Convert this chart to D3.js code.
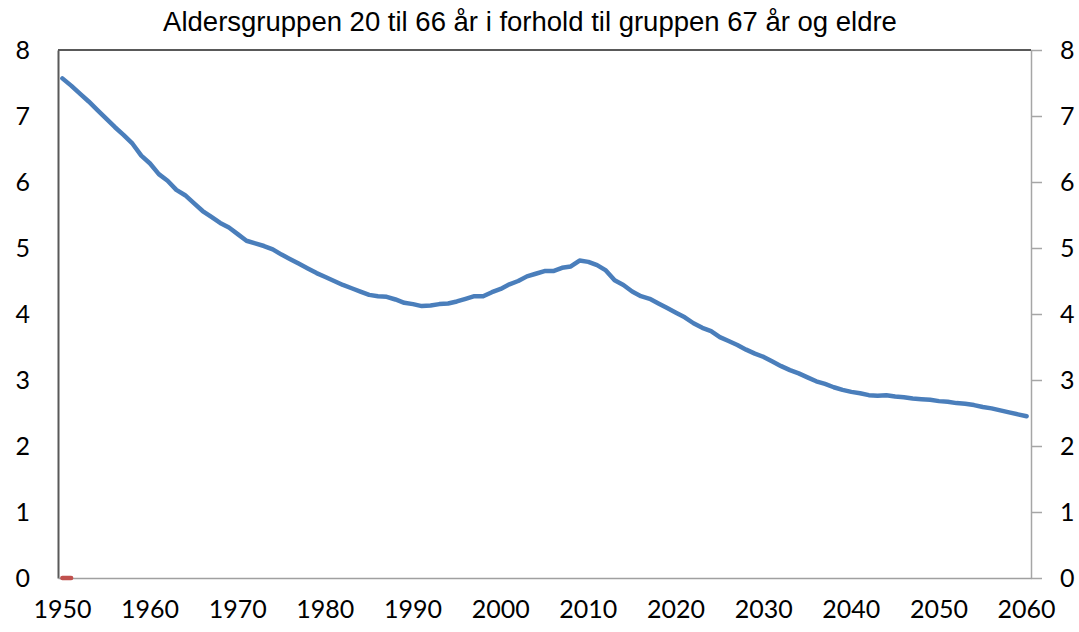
<!DOCTYPE html>
<html>
<head>
<meta charset="utf-8">
<script src="https://cdn.jsdelivr.net/npm/d3@7"></script>
<style>
	body { margin: 0; background: #fff; }
	svg text { fill: #000; }
</style>
</head>
<body>
<svg></svg>
<script>
var width = 1079;
var height = 632;
var margin = {
	top: 50,
	bottom: 54,
	left: 58,
	right: 48
};

var title = 'Aldersgruppen 20 til 66 år i forhold til gruppen 67 år og eldre';

var years = d3.range(1950, 2061);

var yearLabels = [1950, 1960, 1970, 1980, 1990, 2000, 2010, 2020, 2030, 2040, 2050, 2060];

var yTicks = [0, 1, 2, 3, 4, 5, 6, 7, 8];

// 20-66 aar i forhold til 67+
var ratio = [
	7.57, 7.46, 7.34, 7.22, 7.09, 6.96, 6.83, 6.71, 6.58, 6.40,
	6.28, 6.12, 6.02, 5.88, 5.80, 5.68, 5.56, 5.47, 5.38, 5.31,
	5.21, 5.11, 5.07, 5.03, 4.98, 4.90, 4.83, 4.76, 4.69, 4.62,
	4.56, 4.50, 4.44, 4.39, 4.34, 4.29, 4.27, 4.26, 4.22, 4.17,
	4.15, 4.12, 4.13, 4.15, 4.16, 4.19, 4.23, 4.27, 4.27, 4.33,
	4.38, 4.45, 4.50, 4.57, 4.61, 4.65, 4.65, 4.70, 4.72, 4.81,
	4.79, 4.74, 4.66, 4.51, 4.44, 4.34, 4.27, 4.23, 4.16, 4.09,
	4.02, 3.95, 3.86, 3.79, 3.74, 3.65, 3.59, 3.53, 3.46, 3.40,
	3.35, 3.28, 3.21, 3.15, 3.10, 3.04, 2.98, 2.94, 2.89, 2.85,
	2.82, 2.80, 2.77, 2.76, 2.77, 2.75, 2.74, 2.72, 2.71, 2.70,
	2.68, 2.67, 2.65, 2.64, 2.62, 2.59, 2.57, 2.54, 2.51, 2.48,
	2.45
];

// den lille roede serien nede ved null
var redYears = [1950, 1951];
var redValues = [0, 0];

var innerW = width - margin.left - margin.right;
var innerH = height - margin.top - margin.bottom;

var svg = d3.select('svg')
	.attr('width', width)
	.attr('height', height);

var g = svg.append('g')
	.attr('transform', `translate(${margin.left},${margin.top})`);

var x = d3.scaleBand()
	.domain(years)
	.range([0, innerW]);

var y = d3.scaleLinear()
	.domain([0, 8])
	.range([innerH, 0]);

var cx = function(d) { return x(d) + x.bandwidth() / 2; };

// ramme
g.append('line')
	.attr('x1', 0).attr('x2', innerW)
	.attr('y1', 0).attr('y2', 0)
	.attr('stroke', '#595959')
	.attr('stroke-width', 2);

var yLeft = d3.axisLeft(y)
	.tickValues(yTicks)
	.tickSize(0)
	.tickPadding(28);

g.append('g')
	.call(yLeft)
	.call(a => a.select('.domain').attr('stroke', '#595959').attr('stroke-width', 2))
	.selectAll('text')
	.style('font-family', 'Lato, sans-serif')
	.style('font-size', '25px');

var yRight = d3.axisRight(y)
	.tickValues(yTicks)
	.tickSizeInner(11)
	.tickSizeOuter(0)
	.tickPadding(18);

g.append('g')
	.attr('transform', `translate(${innerW},0)`)
	.call(yRight)
	.call(a => a.select('.domain').attr('stroke', '#a6a6a6').attr('stroke-width', 1.5))
	.call(a => a.selectAll('.tick line').attr('stroke', '#a6a6a6').attr('stroke-width', 1.5))
	.selectAll('text')
	.style('font-family', 'Lato, sans-serif')
	.style('font-size', '25px');

var xAxis = d3.axisBottom(x)
	.tickValues(yearLabels)
	.tickSize(0)
	.tickPadding(22);

g.append('g')
	.attr('transform', `translate(0,${innerH})`)
	.call(xAxis)
	.call(a => a.select('.domain').attr('stroke', '#a0a0a0').attr('stroke-width', 1.5))
	.selectAll('text')
	.style('font-family', 'Lato, sans-serif')
	.style('font-size', '25px');

var line = d3.line()
	.x(function(d) { return cx(d.year); })
	.y(function(d) { return y(d.value); });

g.append('path')
	.datum(years.map((yr, i) => ({ year: yr, value: ratio[i] })))
	.attr('d', line)
	.attr('fill', 'none')
	.attr('stroke', '#4a7ebb')
	.attr('stroke-width', 4.5)
	.attr('stroke-linejoin', 'round')
	.attr('stroke-linecap', 'round');

g.append('path')
	.datum(redYears.map((yr, i) => ({ year: yr, value: redValues[i] })))
	.attr('d', line)
	.attr('fill', 'none')
	.attr('stroke', '#c0504d')
	.attr('stroke-width', 4.5)
	.attr('stroke-linecap', 'round');

svg.append('text')
	.attr('x', 530)
	.attr('y', 31)
	.attr('text-anchor', 'middle')
	.style('font-family', '"Liberation Sans", Arial, sans-serif')
	.style('font-size', '27.5px')
	.text(title);
</script>
</body>
</html>
